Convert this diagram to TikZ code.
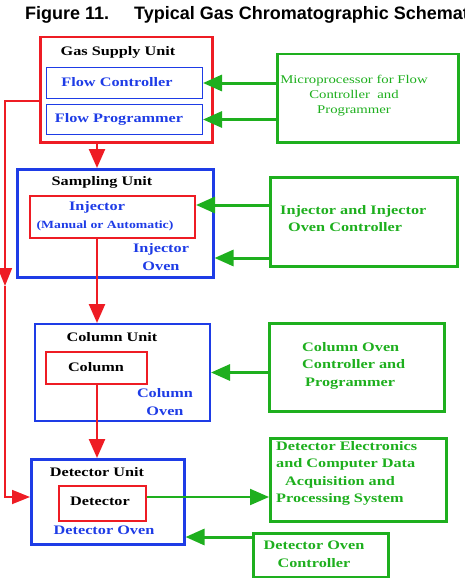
\documentclass[tikz,border=0pt]{standalone}
\usepackage{fontspec}
\setmainfont{Liberation Serif}
\newfontfamily\lbl[FakeStretch=1.25]{Liberation Serif}
\newfontfamily\ttl{Liberation Sans}
\usetikzlibrary{arrows.meta}
\definecolor{gred}{RGB}{238,28,36}
\definecolor{gblue}{RGB}{30,60,230}
\definecolor{ggreen}{RGB}{30,175,30}
\tikzset{
  box/.style={draw, anchor=north west, inner sep=0pt},
  redunit/.style={box, draw=gred, line width=2.5pt},
  blueunit/.style={box, draw=gblue, line width=2.5pt},
  thinblue/.style={box, draw=gblue, line width=1pt},
  redbox/.style={box, draw=gred, line width=2pt},
  greenbox/.style={box, draw=ggreen, line width=2.5pt},
  lab/.style={inner sep=0pt, font=\lbl\bfseries\fontsize{13}{17.5}\selectfont},
  garrow/.style={draw=ggreen, line width=3pt, -{Triangle[length=19pt,width=16pt]}},
  rarrow/.style={draw=gred, line width=2.5pt, -{Triangle[length=19pt,width=16pt]}},
  rline/.style={draw=gred, line width=1.8pt},
  rlinearrow/.style={rline, -{Triangle[length=18pt,width=14pt]}},
}
\begin{document}
\begin{tikzpicture}[x=1pt,y=-1pt]
\useasboundingbox (0,0) rectangle (464,578);
\begin{scope}
\clip (0,0) rectangle (464,578);
\node[anchor=base west, inner sep=0pt, font=\ttl\bfseries\fontsize{18}{20}\selectfont] (title) at (25,20) {Figure 11.\hspace{25pt}Typical Gas Chromatographic Schematic};
\end{scope}

% Gas supply unit
\node[redunit, minimum width=172, minimum height=105] (gas) at (39,36) {};
\node[lab] (gastxt) at (118,52) {Gas Supply Unit};
\node[thinblue, minimum width=156, minimum height=31] (fc) at (46,67) {};
\node[lab, text=gblue] (fctxt) at (117,82) {Flow Controller};
\node[thinblue, minimum width=156, minimum height=30] (fp) at (46,104) {};
\node[lab, text=gblue] (fptxt) at (119,119) {Flow Programmer};
\node[greenbox, minimum width=181, minimum height=88] (micro) at (276,53) {};
\node[lab, text=ggreen, align=center, font=\lbl\fontsize{11.8}{15}\selectfont] (microtxt) at (354,96) {Microprocessor for Flow\\Controller~~and\\Programmer};

% Sampling unit
\node[blueunit, minimum width=196, minimum height=108] (samp) at (16,168) {};
\node[lab] (samptxt) at (102,182) {Sampling Unit};
\node[redbox, minimum width=165, minimum height=42] (inj) at (29,195) {};
\node[lab, text=gblue] (injtxt) at (97,207) {Injector};
\node[lab, text=gblue, font=\lbl\bfseries\fontsize{11}{13}\selectfont] (mantxt) at (105,226) {(Manual or Automatic)};
\node[lab, text=gblue, align=center] (injoven) at (161,257) {Injector\\Oven};
\node[greenbox, minimum width=187, minimum height=89] (injctl) at (269,176) {};
\node[lab, text=ggreen, align=left, anchor=west] (injctltxt) at (280,218.5) {Injector and Injector\\\hspace*{8pt}Oven Controller};

% Column unit
\node[blueunit, line width=2pt, minimum width=175, minimum height=97] (col) at (34,323) {};
\node[lab] (coltxt) at (112,337) {Column Unit};
\node[redbox, minimum width=101, minimum height=32] (column) at (45,351) {};
\node[lab] (columntxt) at (96,367) {Column};
\node[lab, text=gblue, align=center] (coloven) at (165,402) {Column\\Oven};
\node[greenbox, minimum width=175, minimum height=88] (colctl) at (268,322) {};
\node[lab, text=ggreen, align=left, anchor=west] (colctltxt) at (302,365.5) {Column Oven\\Controller and\\\hspace*{3pt}Programmer};

% Detector unit
\node[blueunit, minimum width=153, minimum height=85] (detu) at (30,458) {};
\node[lab] (detutxt) at (97,472) {Detector Unit};
\node[redbox, minimum width=87, minimum height=35] (det) at (58,485) {};
\node[lab] (dettxt) at (100,501) {Detector};
\node[lab, text=gblue] (detoven) at (104,530) {Detector Oven};
\node[greenbox, minimum width=176, minimum height=83] (elec) at (269,437) {};
\node[lab, text=ggreen, align=left, anchor=west] (electxt) at (276,473.5) {Detector Electronics\\and Computer Data\\\hspace*{9pt}Acquisition and\\Processing System};
\node[greenbox, minimum width=135, minimum height=44] (detctl) at (252,532) {};
\node[lab, text=ggreen, align=center] (detctltxt) at (314,554.5) {Detector Oven\\Controller};

% coordinates
\coordinate (xl) at (97,0);
\coordinate (lx) at (5,0);
\coordinate (y1) at (0,101);
\coordinate (ym) at (0,286);
\coordinate (ya) at (0,205);
\coordinate (yb) at (0,258);
\coordinate (yc) at (0,497);
\coordinate (yd) at (0,537);

% green arrows
\draw[garrow] (micro.west |- fc.east) -- (fc.east);
\draw[garrow] (micro.west |- fp.east) -- (fp.east);
\draw[garrow] (injctl.west |- ya) -- (inj.east |- ya);
\draw[garrow] (injctl.west |- yb) -- (samp.east |- yb);
\draw[garrow] (colctl.west |- col.east) -- (col.east);
\draw[garrow, line width=2pt] (det.east |- yc) -- (elec.west |- yc);
\draw[garrow] (detctl.west |- yd) -- (detu.east |- yd);

% red arrows
\draw[rarrow] (gas.south -| xl) -- (samp.north -| xl);
\draw[rarrow] (inj.south -| xl) -- (col.north -| xl);
\draw[rarrow] (column.south -| xl) -- (detu.north -| xl);
\draw[rlinearrow] (gas.west |- y1) -- (lx |- y1) -- (lx |- ym);
\draw[rlinearrow] (lx |- ym) -- (lx |- yc) -- (detu.west |- yc);
\end{tikzpicture}
\end{document}
